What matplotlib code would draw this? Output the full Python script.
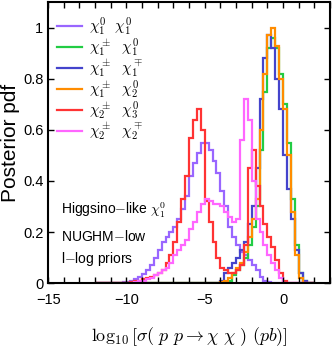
import numpy as np
import matplotlib
matplotlib.use("Agg")
import matplotlib.pyplot as plt
from matplotlib.ticker import MultipleLocator, FixedLocator, FuncFormatter

plt.rcParams['mathtext.fontset'] = 'cm'
plt.rcParams['font.family'] = ['Liberation Sans', 'DejaVu Sans']

# bin edges of the histograms, log10 cross section (pb)
edges = np.arange(-12, 2.001, 0.25)

# posterior pdf per bin, rows of 8 bins = 2 units each (-12..-10, -10..-8, ...)
chi10_chi10 = [0, 0, 0, 0, 0, 0, 0, 0.005,
               0.005, 0.01, 0.015, 0.025, 0.035, 0.05, 0.07, 0.1,
               0.13, 0.16, 0.18, 0.2, 0.22, 0.25, 0.29, 0.34,
               0.42, 0.47, 0.51, 0.55, 0.55, 0.52, 0.48, 0.43,
               0.36, 0.3, 0.22, 0.18, 0.15, 0.12, 0.11, 0.09,
               0.07, 0.05, 0.025, 0.01, 0.005, 0, 0, 0,
               0, 0, 0, 0, 0, 0, 0, 0]
chipm1_chi10 = [0, 0, 0, 0, 0, 0, 0, 0,
                0, 0, 0, 0, 0, 0, 0, 0,
                0, 0, 0, 0, 0, 0, 0, 0,
                0, 0, 0, 0, 0, 0, 0, 0,
                0, 0.005, 0.01, 0.03, 0.05, 0.07, 0.1, 0.15,
                0.22, 0.3, 0.52, 0.75, 0.92, 0.96, 0.92, 0.82,
                0.7, 0.55, 0.33, 0.15, 0.04, 0.01, 0, 0]
chipm1_chimp1 = [0, 0, 0, 0, 0, 0, 0, 0,
                 0, 0, 0, 0, 0, 0, 0, 0,
                 0, 0, 0, 0, 0, 0, 0, 0,
                 0, 0, 0, 0, 0, 0, 0, 0,
                 0.01, 0.04, 0.06, 0.08, 0.1, 0.13, 0.16, 0.23,
                 0.3, 0.45, 0.72, 0.88, 0.97, 0.92, 0.8, 0.68,
                 0.5, 0.37, 0.25, 0.13, 0.04, 0.01, 0, 0]
chipm1_chi20 = [0, 0, 0, 0, 0, 0, 0, 0,
                0, 0, 0, 0, 0, 0, 0, 0,
                0, 0, 0, 0, 0, 0, 0, 0,
                0, 0, 0, 0, 0, 0, 0, 0,
                0.005, 0.01, 0.02, 0.04, 0.06, 0.08, 0.12, 0.18,
                0.25, 0.33, 0.6, 0.82, 0.97, 1.0, 0.93, 0.8,
                0.68, 0.5, 0.28, 0.11, 0.02, 0, 0, 0]
chipm2_chi30 = [0, 0, 0, 0, 0, 0, 0, 0,
                0, 0.005, 0.01, 0.01, 0.015, 0.02, 0.025, 0.03,
                0.04, 0.05, 0.08, 0.11, 0.16, 0.24, 0.33, 0.42,
                0.57, 0.64, 0.68, 0.6, 0.32, 0.24, 0.16, 0.1,
                0.06, 0.05, 0.04, 0.04, 0.05, 0.07, 0.15, 0.45,
                0.52, 0.38, 0.3, 0.23, 0.18, 0.14, 0.09, 0.04,
                0.01, 0, 0, 0, 0, 0, 0, 0]
chipm2_chimp2 = [0, 0, 0, 0, 0, 0, 0, 0,
                 0, 0, 0.005, 0.01, 0.01, 0.015, 0.02, 0.03,
                 0.04, 0.05, 0.06, 0.08, 0.11, 0.13, 0.15, 0.17,
                 0.21, 0.24, 0.28, 0.31, 0.33, 0.32, 0.31, 0.31,
                 0.3, 0.28, 0.26, 0.24, 0.25, 0.56, 0.72, 0.64,
                 0.4, 0.25, 0.2, 0.15, 0.11, 0.08, 0.05, 0.02,
                 0, 0, 0, 0, 0, 0, 0, 0]

series = [chi10_chi10, chipm1_chi10, chipm1_chimp1, chipm1_chi20, chipm2_chi30, chipm2_chimp2]
labels = [r'$\chi_1^0\ \ \chi_1^0$', r'$\chi_1^\pm\ \ \chi_1^0$', r'$\chi_1^\pm\ \ \chi_1^\mp$',
          r'$\chi_1^\pm\ \ \chi_2^0$', r'$\chi_2^\pm\ \ \chi_3^0$', r'$\chi_2^\pm\ \ \chi_2^\mp$']
colors = ['#9966ff', '#22cc44', '#4444cc', '#ff8c00', '#ff3333', '#ff66ff']

fig = plt.figure(figsize=(3.32, 3.47), dpi=100)
ax = fig.add_axes([0.145, 0.184, 0.849, 0.81])

for vals, lab, col in zip(series, labels, colors):
    ax.stairs(vals, edges, color=col, lw=1.6, label=lab, baseline=None)

ax.set_xlim(-15, 3)
ax.set_ylim(0, 1.1)
ax.xaxis.set_major_locator(FixedLocator([-15, -10, -5, 0]))
ax.xaxis.set_minor_locator(MultipleLocator(1))
ax.yaxis.set_major_locator(FixedLocator([0, 0.2, 0.4, 0.6, 0.8, 1.0]))
ax.yaxis.set_major_formatter(FuncFormatter(lambda v, p: '%g' % v))
ax.xaxis.set_major_formatter(FuncFormatter(lambda v, p: '\u2212%d' % -v if v < 0 else '%d' % v))
ax.tick_params(which='both', direction='in', top=True, right=True, length=4, width=1, labelsize=10.5)
ax.tick_params(axis='x', pad=7)
for s in ax.spines.values():
    s.set_linewidth(1.5)

ax.set_ylabel('Posterior pdf', fontsize=15, labelpad=2)
ax.set_xlabel(r'$\log_{10}[\sigma(\ p\ p \rightarrow \chi\ \chi\ )\ (pb)]$', fontsize=13, labelpad=13)

ax.text(-14.2, 0.27, r'Higgsino$-$like $\chi_1^0$', fontsize=10)
ax.text(-14.2, 0.165, r'NUGHM$-$low', fontsize=10)
ax.text(-14.2, 0.08, r'l$-$log priors', fontsize=10)

ax.legend(loc='upper left', frameon=False, fontsize=11, handlelength=1.6,
          borderaxespad=0.2, labelspacing=-0.05, handletextpad=0.5,
          bbox_to_anchor=(0.0, 0.985))

fig.savefig('out.png', dpi=100)
